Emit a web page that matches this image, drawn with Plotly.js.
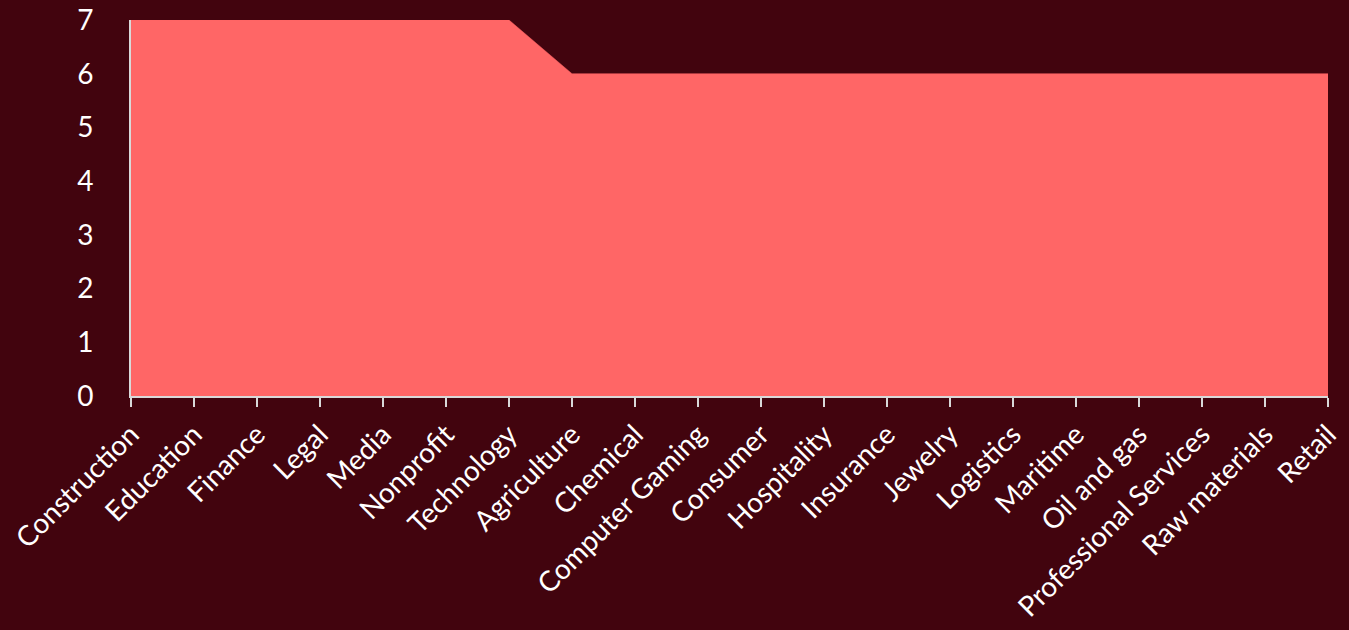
<!DOCTYPE html>
<html>
<head>
<meta charset="utf-8">
<script src="https://cdn.plot.ly/plotly-3.0.1.min.js"></script>
<style>html,body{margin:0;padding:0;background:#42040e;}#chart{width:1349px;height:630px;}</style>
</head>
<body>
<div id="chart"></div>
<script>
const categories = ["Construction","Education","Finance","Legal","Media","Nonprofit","Technology","Agriculture","Chemical","Computer Gaming","Consumer","Hospitality","Insurance","Jewelry","Logistics","Maritime","Oil and gas","Professional Services","Raw materials","Retail"];
const values = [7,7,7,7,7,7,7,6,6,6,6,6,6,6,6,6,6,6,6,6];
const yTicks = [0,1,2,3,4,5,6,7];

const trace = {
  x: categories,
  y: values,
  type: 'scatter',
  mode: 'lines',
  fill: 'tozeroy',
  fillcolor: '#ff6666',
  line: {color: '#ff6666', width: 0.5},
  hoverinfo: 'skip'
};

const layout = {
  width: 1349, height: 630,
  margin: {l: 131, r: 21, t: 20, b: 234},
  paper_bgcolor: '#42040e',
  plot_bgcolor: 'rgba(0,0,0,0)',
  showlegend: false,
  font: {family: 'Lato, "Open Sans", sans-serif', color: '#ffffff', size: 28},
  xaxis: {
    type: 'category',
    range: [0, categories.length - 1],
    tickangle: -45,
    showgrid: false,
    zeroline: false,
    showline: true,
    linecolor: '#d9d9d9',
    linewidth: 2,
    ticks: 'outside',
    ticklen: 9,
    tickwidth: 2,
    tickcolor: '#d9d9d9',
    tickfont: {size: 28, color: '#ffffff'}
  },
  yaxis: {
    range: [0, 7],
    tickvals: yTicks,
    ticktext: yTicks.map(String),
    showgrid: false,
    zeroline: false,
    showline: true,
    linecolor: '#d9d9d9',
    linewidth: 2,
    ticks: '',
    ticklabelstandoff: 30,
    tickfont: {size: 28, color: '#ffffff'}
  }
};

Plotly.newPlot('chart', [trace], layout, {displayModeBar: false, staticPlot: true});
</script>
</body>
</html>
